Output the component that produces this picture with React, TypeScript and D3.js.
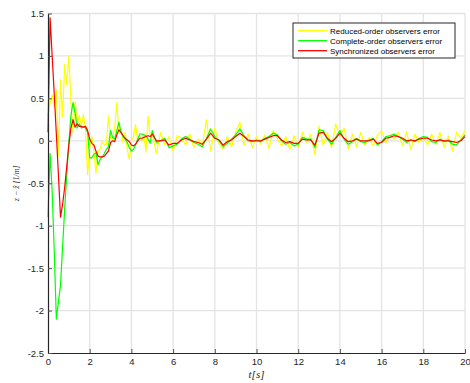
import { useRef, useEffect } from 'react';
import * as d3 from 'd3';

// time grid: 0.1 s steps up to 5 s, then 0.2 s steps up to 20 s
const timeEarly = d3.range(0, 51).map((i) => i / 10);
const timeLate = d3.range(1, 76).map((i) => 5 + i * 0.2);
const time = [...timeEarly, ...timeLate];

const reducedError = [
  0.29, 0.45, 0.54, 0.4, 0.6, -0.18, 0.72, 0.28, 0.9, 0.66,
  1.0, 0.45, 0.1, 0.46, 0.2, 0.3, 0.18, 0.31, 0.13, -0.4,
  -0.07, 0.05, -0.12, -0.38, -0.12, -0.1, -0.01, -0.05, -0.04, 0.29,
  0.02, 0.0, 0.16, 0.45, 0.09, 0.16, -0.02, 0.1, -0.1, -0.22,
  0.0, 0.05, 0.19, 0.0, 0.05, 0.0, 0.06, -0.13, 0.29, 0.05,
  0.1,
  -0.15, 0.1, -0.05, 0.05, -0.12, 0.06, 0.03, -0.05, 0.08, -0.08,
  0.02, -0.06, 0.25, -0.12, 0.15, -0.03, -0.1, 0.05, -0.07, 0.1,
  0.22, -0.05, 0.08, -0.08, 0.05, -0.04, 0.07, -0.09, 0.12, 0.03,
  -0.06, 0.05, -0.1, 0.06, -0.08, 0.1, -0.02,
  0.08, -0.16, 0.17, -0.05, 0.1, -0.08, 0.2, 0.05, 0.15, -0.1,
  0.08, -0.07, 0.1, -0.05, 0.04, -0.06, 0.07, 0.12, -0.03, 0.07,
  0.02, 0.1, -0.06, 0.1, -0.1, 0.08, -0.02, 0.05, -0.05, 0.08,
  -0.04, 0.1, -0.08, 0.06, -0.12, 0.1, 0.03, 0.12,
];

const completeError = [
  -0.9, -0.15, -0.6, -1.3, -2.1, -1.9, -1.7, -1.25, -0.8, -0.4,
  -0.02, 0.3, 0.45, 0.33, 0.15, 0.2, 0.15, 0.17, 0.15, 0.1,
  -0.2, -0.2, -0.16, -0.14, -0.28, -0.22, -0.19, -0.15, -0.1, -0.07,
  0.12, 0.04, 0.02, 0.12, 0.22, 0.1, 0.05, 0.02, -0.02, -0.08,
  -0.12, -0.1, -0.05, 0.02, 0.08, 0.08, 0.07, 0.06, 0.02, -0.03,
  0.12,
  -0.02, 0.0, 0.03, -0.08, -0.06, -0.04, 0.02, 0.05, 0.02, -0.02,
  -0.04, -0.07, 0.03, 0.14, 0.05, 0.0, -0.07, -0.03, 0.02, 0.07,
  0.14, 0.06, 0.0, -0.01, 0.01, -0.01, 0.03, 0.05, 0.09, 0.07,
  0.0, -0.04, -0.02, -0.06, -0.04, 0.04, 0.02,
  0.02, -0.08, 0.13, 0.12, 0.02, -0.04, 0.04, 0.12, 0.02, -0.04,
  -0.01, 0.03, -0.01, -0.02, 0.01, 0.03, -0.05, -0.01, 0.05, 0.06,
  0.08, 0.05, 0.02, -0.02, 0.01, -0.01, 0.03, 0.05, 0.04, -0.01,
  -0.02, 0.02, -0.01, 0.01, -0.04, -0.05, 0.01, 0.07,
];

const synchronizedError = [
  0.1, 1.45, 1.0, 0.55, 0.08, -0.4, -0.9, -0.75, -0.55, -0.3,
  -0.05, 0.15, 0.25, 0.16, 0.2, 0.17, 0.17, 0.16, 0.17, 0.12,
  0.02, -0.03, -0.05, -0.12, -0.18, -0.19, -0.19, -0.18, -0.15, -0.12,
  -0.02, 0.0, -0.01, 0.07, 0.13, 0.1, 0.06, 0.03, 0.01, -0.01,
  -0.05, -0.06, -0.04, 0.0, 0.03, 0.03, 0.04, 0.05, 0.06, 0.05,
  0.08,
  0.0, 0.0, 0.01, -0.05, -0.03, -0.03, 0.01, 0.03, 0.01, -0.01,
  -0.02, -0.04, 0.02, 0.09, 0.03, 0.01, -0.05, -0.01, 0.01, 0.05,
  0.09, 0.05, 0.01, 0.0, 0.0, 0.0, 0.02, 0.04, 0.06, 0.06,
  0.01, -0.02, -0.01, -0.03, -0.03, 0.02, 0.01,
  0.01, -0.05, 0.09, 0.1, 0.03, -0.01, 0.03, 0.09, 0.03, -0.01,
  0.0, 0.02, 0.0, 0.0, 0.0, 0.02, -0.03, -0.02, 0.03, 0.04,
  0.06, 0.05, 0.03, 0.0, 0.01, 0.0, 0.02, 0.03, 0.03, 0.01,
  0.0, 0.01, 0.0, 0.0, -0.01, -0.02, 0.0, 0.05,
];

const xTicks = [0, 2, 4, 6, 8, 10, 12, 14, 16, 18, 20];
const yTicks = [-2.5, -2, -1.5, -1, -0.5, 0, 0.5, 1, 1.5];

const seriesNames = [
  'Reduced-order observers error',
  'Complete-order observers error',
  'Synchronized observers error',
];
const seriesColors = ['#ffff00', '#00ff00', '#ff0000'];

function App() {
  const svgRef = useRef(null);
  const width = 470;
  const height = 383;

  useEffect(() => {
    document.body.style.margin = '0';
    const svg = d3.select(svgRef.current);
    svg.selectAll('*').remove();
    svg.style('font-family', '"Liberation Sans", Arial, sans-serif');

    const margin = { top: 13.5, right: 5, bottom: 30, left: 48 };

    const x = d3
      .scaleLinear()
      .domain([0, 20])
      .range([margin.left, width - margin.right]);
    const y = d3
      .scaleLinear()
      .domain([-2.5, 1.5])
      .range([height - margin.bottom, margin.top]);

    // grid
    const grid = svg.append('g').attr('stroke', '#e3e3e3').attr('stroke-width', 1.3);
    grid
      .selectAll('line.vx')
      .data(xTicks.slice(1))
      .join('line')
      .attr('x1', (d) => x(d))
      .attr('x2', (d) => x(d))
      .attr('y1', y(-2.5))
      .attr('y2', y(1.5));
    grid
      .selectAll('line.hy')
      .data(yTicks.slice(1))
      .join('line')
      .attr('x1', x(0))
      .attr('x2', x(20))
      .attr('y1', (d) => y(d))
      .attr('y2', (d) => y(d));

    // series
    const series = [reducedError, completeError, synchronizedError];
    const line = d3
      .line<number>()
      .x((_, i) => x(time[i]))
      .y((d) => y(d));
    series.forEach((values, k) => {
      svg
        .append('path')
        .datum(values)
        .attr('fill', 'none')
        .attr('stroke', seriesColors[k])
        .attr('stroke-width', 1.2)
        .attr('stroke-linejoin', 'round')
        .attr('d', line);
    });

    // axes
    const xAxis = svg
      .append('g')
      .attr('transform', `translate(0,${y(-2.5)})`)
      .call(
        d3
          .axisBottom(x)
          .tickValues(xTicks)
          .tickSizeInner(-4)
          .tickSizeOuter(0)
          .tickPadding(5)
          .tickFormat((d) => `${d}`)
      );
    const yAxis = svg
      .append('g')
      .attr('transform', `translate(${x(0)},0)`)
      .call(
        d3
          .axisLeft(y)
          .tickValues(yTicks)
          .tickSizeInner(-4)
          .tickSizeOuter(0)
          .tickPadding(4)
          .tickFormat((d) => `${d}`)
      );
    [xAxis, yAxis].forEach((g) => {
      g.select('.domain').attr('stroke', '#262626').attr('stroke-width', 1.2);
      g.selectAll('.tick line').attr('stroke', '#555');
      g.selectAll('.tick text')
        .attr('fill', '#262626')
        .style('font-size', '9.5px')
        .style('font-family', '"Liberation Sans", Arial, sans-serif');
    });

    // axis labels
    svg
      .append('text')
      .attr('x', x(10))
      .attr('y', height - 5)
      .attr('text-anchor', 'middle')
      .attr('fill', '#262626')
      .style('font-family', '"Liberation Serif", serif')
      .style('font-style', 'italic')
      .style('font-size', '11px')
      .text('t[s]');

    svg
      .append('text')
      .attr('transform', `translate(19,${y(-0.5)}) rotate(-90)`)
      .attr('text-anchor', 'middle')
      .attr('fill', '#262626')
      .style('font-family', '"Liberation Serif", serif')
      .style('font-style', 'italic')
      .style('font-size', '8px')
      .text('z \u2212 z\u0302 [1/m]');

    // legend
    const legend = svg.append('g').attr('transform', 'translate(293,23)');
    legend
      .append('rect')
      .attr('width', 162)
      .attr('height', 35)
      .attr('fill', '#fff')
      .attr('stroke', '#262626')
      .attr('stroke-width', 1);
    seriesNames.forEach((name, k) => {
      const rowY = 7.7 + k * 10;
      legend
        .append('line')
        .attr('x1', 5)
        .attr('x2', 34)
        .attr('y1', rowY)
        .attr('y2', rowY)
        .attr('stroke', seriesColors[k])
        .attr('stroke-width', 1.3);
      legend
        .append('text')
        .attr('x', 37)
        .attr('y', rowY)
        .attr('dy', '0.35em')
        .attr('fill', '#000')
        .style('font-size', '8px')
        .text(name);
    });
  }, []);

  return <svg ref={svgRef} width={width} height={height}></svg>;
}

export default App;
